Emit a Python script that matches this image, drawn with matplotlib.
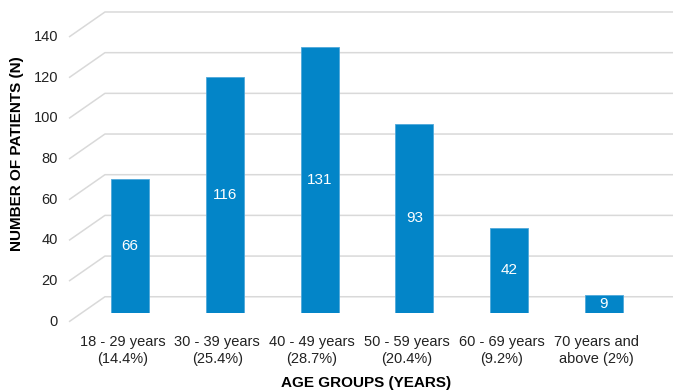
import numpy as np
import matplotlib
matplotlib.use("Agg")
import matplotlib.pyplot as plt

plt.rcParams['font.family'] = ['Liberation Sans', 'DejaVu Sans']

# data
categories = ["18 - 29 years\n(14.4%)", "30 - 39 years\n(25.4%)", "40 - 49 years\n(28.7%)",
              "50 - 59 years\n(20.4%)", "60 - 69 years\n(9.2%)", "70 years and\nabove (2%)"]
patients = [66, 116, 131, 93, 42, 9]
yticks = [0, 20, 40, 60, 80, 100, 120, 140]

BAR_COLOR = "#0385C8"
GRID_COLOR = "#D9D9D9"
TEXT_COLOR = "#222222"

# pseudo-3D geometry (in data units)
BACK_DY = 8.0      # back wall sits this much above the bar plane
FRONT_DY = 4.3     # front edge sits this much below the bar plane
BACK_X = -0.264
FRONT_X = -0.643

fig = plt.figure(figsize=(6.73, 3.92), dpi=100)
ax = fig.add_axes([0.0, 0.2015, 1.0, 0.7783])
ax.set_xlim(-1.371, 5.728)
ax.set_ylim(0, 150)
ax.axis("off")

x = np.arange(len(categories))

# gridlines: slanted floor edge + back wall line
for v in yticks:
    ax.plot([FRONT_X, BACK_X, 5.728], [v - FRONT_DY, v + BACK_DY, v + BACK_DY],
            color=GRID_COLOR, lw=1.1, clip_on=False, zorder=1, solid_capstyle="butt")
    ax.text(FRONT_X - 0.115, v - FRONT_DY, str(v), ha="right", va="center",
            fontsize=10.5, color=TEXT_COLOR)

bars = ax.bar(x, patients, width=0.40, color=BAR_COLOR, edgecolor="#4FA8DA",
              linewidth=0.6, zorder=3)

for xi, v in zip(x, patients):
    ax.text(xi, v / 2, str(v), ha="center", va="center", color="white",
            fontsize=11, zorder=4)

for xi, lab in zip(x, categories):
    ax.text(xi - 0.08, -18.3, lab, ha="center", va="center", fontsize=10.5,
            color=TEXT_COLOR, linespacing=1.3, clip_on=False)

fig.text(366 / 673, 1 - 383 / 392, "AGE GROUPS (YEARS)", ha="center", va="center",
         fontsize=11, fontweight="bold", color="black")
fig.text(17 / 673, 1 - 154 / 392, "NUMBER OF PATIENTS (N)", ha="center", va="center",
         rotation=90, fontsize=11, fontweight="bold", color="black")

fig.savefig("out.png", dpi=100)
